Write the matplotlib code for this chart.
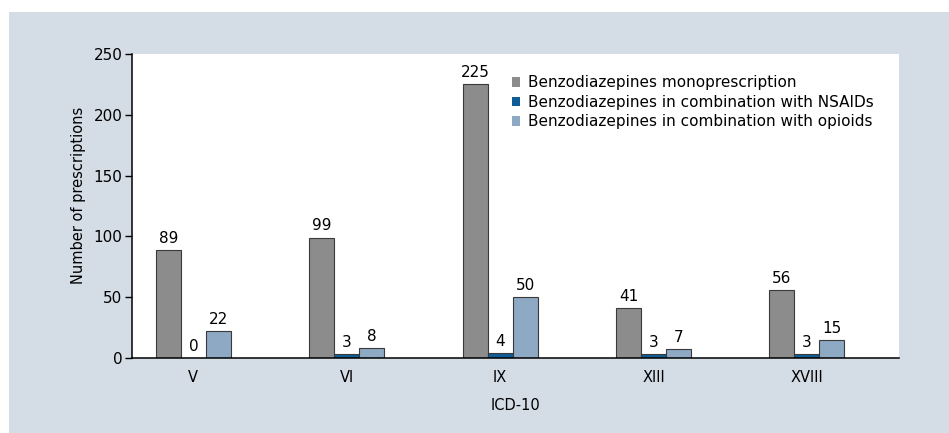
import numpy as np
import matplotlib.pyplot as plt
from matplotlib.patches import Rectangle

plt.rcParams['font.family'] = ['DejaVu Sans']

categories = ['V', 'VI', 'IX', 'XIII', 'XVIII']
mono = [89, 99, 225, 41, 56]
nsaids = [0, 3, 4, 3, 3]
opioids = [22, 8, 50, 7, 15]
series_names = ['Benzodiazepines monoprescription',
                'Benzodiazepines in combination with NSAIDs',
                'Benzodiazepines in combination with opioids']
colors = ['#8c8c8c', '#0f5c97', '#8ea9c4']

fig = plt.figure(figsize=(9.49, 4.33), dpi=100)
# light panel behind the chart
fig.patches.append(Rectangle((9 / 949, 0), 1, 1 - 12 / 433, transform=fig.transFigure,
                             facecolor='#d4dce6', edgecolor='none', zorder=-5))

ax = fig.add_axes([132 / 949, 1 - 358 / 433, (899 - 132) / 949, (358 - 54) / 433])
ax.set_facecolor('white')

x = np.arange(len(categories))
w = 0.163
for i, (vals, name, c) in enumerate(zip([mono, nsaids, opioids], series_names, colors)):
    bars = ax.bar(x + (i - 1) * w, vals, w, color=c, edgecolor='#3a3a3a', linewidth=0.8, label=name)
    ax.bar_label(bars, padding=3, fontsize=11)

ax.set_xlim(-0.4, 4.6)
ax.set_ylim(0, 250)
ax.set_yticks(range(0, 251, 50))
ax.set_xticks(x)
ax.set_xticklabels(categories)
ax.tick_params(axis='x', length=0, pad=9, labelsize=10.5)
ax.tick_params(axis='y', length=5, width=1, labelsize=11, pad=2)
ax.spines['top'].set_visible(False)
ax.spines['right'].set_visible(False)
ax.spines['left'].set_linewidth(1.1)
ax.spines['bottom'].set_linewidth(1.1)

ax.set_xlabel('ICD-10', fontsize=10.5, labelpad=9)
ax.set_ylabel('Number of prescriptions', fontsize=10.5)
ax.yaxis.set_label_coords(-0.060, 0.535)

leg = ax.legend(loc='upper left', bbox_to_anchor=(0.485, 0.955), frameon=False, fontsize=11,
                handlelength=0.55, handleheight=0.55, handletextpad=0.5, labelspacing=0.3,
                borderpad=0)
# legend squares have no outline in the original
for h in leg.legend_handles:
    h.set_edgecolor('none')

fig.savefig('out.png', dpi=100, facecolor='white')
